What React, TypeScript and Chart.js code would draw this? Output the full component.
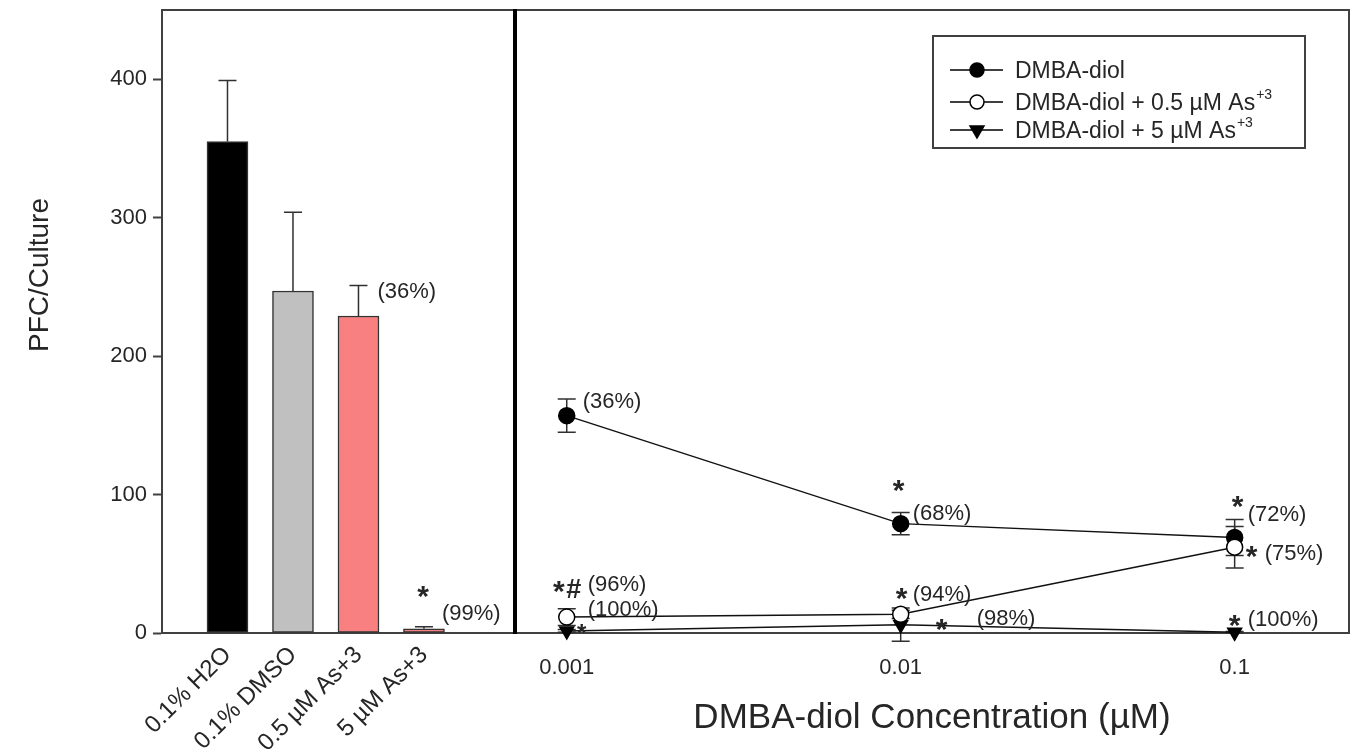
import React, { useEffect, useRef } from 'react';
import { Chart, registerables } from 'chart.js';

Chart.register(...registerables);

const FONT = '"Liberation Sans", Arial, Helvetica, sans-serif';
const AXIS = '#404040';
const TEXT = '#262626';

// ---------- Left panel (controls) ----------
const barCategories = ['0.1% H2O', '0.1% DMSO', '0.5 µM As+3', '5 µM As+3'];
const barValues = [355, 247, 229, 3];
const barErrors = [44, 57, 22, 1.5];
const barColors = ['#000000', '#c0c0c0', '#f88080', '#f88080'];

// ---------- Right panel (DMBA-diol) ----------
const concentrations = [0.001, 0.01, 0.1];
const concTickLabels = ['0.001', '0.01', '0.1'];
const diolValues = [157, 79, 69];
const diolErrors = [12, 8, 13];
const diolAs05Values = [11.5, 13.5, 62];
const diolAs05Errors = [6, 3, 15];
const diolAs5Values = [1.5, 6, 0.5];
const diolAs5Errors = [1, 12, 0.5];

const seriesLabels = ['DMBA-diol', 'DMBA-diol + 0.5 µM As', 'DMBA-diol + 5 µM As'];
const seriesSups = ['', '+3', '+3'];

const yTicks = [0, 100, 200, 300, 400];
const yMin = 0;
const yMax = 450;

const yTitle = 'PFC/Culture';
const xTitle = 'DMBA-diol Concentration (µM)';

// annotations: text attached to a data point with a pixel offset
type Note = { t: string; s: number; i: number; dx: number; dy: number; k: 'pct' | 'star' | 'hash'; size?: number };

const leftNotes: Note[] = [
  { t: '(36%)', s: 0, i: 2, dx: 19, dy: -26, k: 'pct' },
  { t: '*', s: 0, i: 3, dx: -1, dy: -40, k: 'star' },
  { t: '(99%)', s: 0, i: 3, dx: 18, dy: -17, k: 'pct' },
];

const rightNotes: Note[] = [
  { t: '(36%)', s: 0, i: 0, dx: 16, dy: -16, k: 'pct' },
  { t: '*', s: 0, i: 1, dx: -2, dy: -41, k: 'star' },
  { t: '(68%)', s: 0, i: 1, dx: 12, dy: -12, k: 'pct' },
  { t: '*', s: 0, i: 2, dx: 3, dy: -39, k: 'star' },
  { t: '(72%)', s: 0, i: 2, dx: 13, dy: -24, k: 'pct' },
  { t: '*', s: 1, i: 2, dx: 17, dy: 1, k: 'star' },
  { t: '(75%)', s: 1, i: 2, dx: 30, dy: 5, k: 'pct' },
  { t: '*', s: 1, i: 0, dx: -8, dy: -33, k: 'star' },
  { t: '#', s: 1, i: 0, dx: 7, dy: -29, k: 'hash' },
  { t: '(96%)', s: 1, i: 0, dx: 21, dy: -34, k: 'pct' },
  { t: '(100%)', s: 1, i: 0, dx: 21, dy: -9, k: 'pct' },
  { t: '*', s: 2, i: 0, dx: 15, dy: -4, k: 'star', size: 24 },
  { t: '*', s: 1, i: 1, dx: 1, dy: -24, k: 'star' },
  { t: '(94%)', s: 1, i: 1, dx: 12, dy: -21, k: 'pct' },
  { t: '*', s: 2, i: 1, dx: 41, dy: -3, k: 'star' },
  { t: '(98%)', s: 2, i: 1, dx: 76, dy: -8, k: 'pct' },
  { t: '*', s: 2, i: 2, dx: 0, dy: -15, k: 'star' },
  { t: '(100%)', s: 2, i: 2, dx: 13, dy: -14, k: 'pct' },
];

function drawNotes(chart: any, notes: Note[], xVals: number[], series: number[][]) {
  const { ctx, scales } = chart;
  ctx.save();
  ctx.fillStyle = TEXT;
  ctx.textBaseline = 'alphabetic';
  for (const n of notes) {
    const px = scales.x.getPixelForValue(xVals[n.i]) + n.dx;
    const py = scales.y.getPixelForValue(series[n.s][n.i]) + n.dy;
    if (n.k === 'pct') {
      const size = n.size ?? 22;
      ctx.font = `${size}px ${FONT}`;
      ctx.textAlign = 'left';
      ctx.fillText(n.t, px, py + 0.36 * size);
    } else if (n.k === 'star') {
      const size = n.size ?? 30;
      ctx.font = `bold ${size}px ${FONT}`;
      ctx.textAlign = 'center';
      ctx.fillText(n.t, px, py + 0.58 * size);
    } else {
      const size = n.size ?? 27;
      ctx.font = `bold ${size}px ${FONT}`;
      ctx.textAlign = 'center';
      ctx.fillText(n.t, px, py + 0.36 * size);
    }
  }
  ctx.restore();
}

function drawErrorBars(chart: any, xs: number[], ys: number[], errs: number[], upperOnly: boolean, cap: number) {
  const { ctx, scales } = chart;
  ctx.save();
  ctx.strokeStyle = '#303030';
  ctx.lineWidth = 1.5;
  for (let i = 0; i < xs.length; i++) {
    const px = scales.x.getPixelForValue(xs[i]);
    const py = scales.y.getPixelForValue(ys[i]);
    const top = scales.y.getPixelForValue(ys[i] + errs[i]);
    const bot = upperOnly ? py : scales.y.getPixelForValue(ys[i] - errs[i]);
    ctx.beginPath();
    ctx.moveTo(px, top);
    ctx.lineTo(px, bot);
    ctx.moveTo(px - cap, top);
    ctx.lineTo(px + cap, top);
    if (!upperOnly) {
      ctx.moveTo(px - cap, bot);
      ctx.lineTo(px + cap, bot);
    }
    ctx.stroke();
  }
  ctx.restore();
}

const barPositions = barCategories.map((_, i) => i + 1);

const leftPlugin = {
  id: 'leftDecor',
  afterDatasetsDraw(chart: any) {
    drawErrorBars(chart, barPositions, barValues, barErrors, true, 9);
  },
  afterDraw(chart: any) {
    const { ctx, chartArea } = chart;
    ctx.save();
    ctx.strokeStyle = AXIS;
    ctx.lineWidth = 2;
    ctx.beginPath();
    ctx.moveTo(chartArea.left - 1, chartArea.top);
    ctx.lineTo(chartArea.right, chartArea.top);
    ctx.stroke();
    // y title
    ctx.fillStyle = TEXT;
    ctx.font = `28px ${FONT}`;
    ctx.textAlign = 'center';
    ctx.textBaseline = 'middle';
    ctx.translate(40, 275);
    ctx.rotate(-Math.PI / 2);
    ctx.fillText(yTitle, 0, 0);
    ctx.restore();
    drawNotes(chart, leftNotes, barPositions, [barValues]);
  },
};

const rightSeries = [diolValues, diolAs05Values, diolAs5Values];
const rightErrors = [diolErrors, diolAs05Errors, diolAs5Errors];

function drawMarker(ctx: CanvasRenderingContext2D, kind: number, x: number, y: number, r: number) {
  ctx.save();
  ctx.lineWidth = 1.5;
  ctx.strokeStyle = '#000';
  ctx.beginPath();
  if (kind === 2) {
    ctx.moveTo(x - r * 0.87, y - r * 0.5);
    ctx.lineTo(x + r * 0.87, y - r * 0.5);
    ctx.lineTo(x, y + r);
    ctx.closePath();
    ctx.fillStyle = '#000';
  } else {
    ctx.arc(x, y, r, 0, Math.PI * 2);
    ctx.fillStyle = kind === 1 ? '#fff' : '#000';
  }
  ctx.fill();
  ctx.stroke();
  ctx.restore();
}

const rightPlugin = {
  id: 'rightDecor',
  beforeDatasetsDraw(chart: any) {
    for (let s = 0; s < rightSeries.length; s++) {
      drawErrorBars(chart, concentrations, rightSeries[s], rightErrors[s], false, 9);
    }
  },
  afterDraw(chart: any) {
    const { ctx, chartArea } = chart;
    ctx.save();
    // frame
    ctx.strokeStyle = AXIS;
    ctx.lineWidth = 2;
    ctx.beginPath();
    ctx.moveTo(chartArea.left, chartArea.top);
    ctx.lineTo(chartArea.right, chartArea.top);
    ctx.lineTo(chartArea.right, chartArea.bottom);
    ctx.stroke();
    // divider
    ctx.strokeStyle = '#000';
    ctx.lineWidth = 4;
    ctx.beginPath();
    ctx.moveTo(chartArea.left, chartArea.top - 1);
    ctx.lineTo(chartArea.left, chartArea.bottom + 1);
    ctx.stroke();

    // legend
    const bw = 372;
    const bh = 112;
    const bx = chartArea.right - 44 - bw;
    const by = chartArea.top + 26;
    ctx.strokeStyle = AXIS;
    ctx.lineWidth = 2;
    ctx.strokeRect(bx, by, bw, bh);
    const rowY = [34, 66, 94];
    for (let i = 0; i < seriesLabels.length; i++) {
      const cy = by + rowY[i];
      ctx.strokeStyle = '#000';
      ctx.lineWidth = 1.5;
      ctx.beginPath();
      ctx.moveTo(bx + 17, cy);
      ctx.lineTo(bx + 70, cy);
      ctx.stroke();
      drawMarker(ctx, i, bx + 44, cy, i === 2 ? 8 : 7);
      ctx.fillStyle = TEXT;
      ctx.font = `23px ${FONT}`;
      ctx.textAlign = 'left';
      ctx.textBaseline = 'alphabetic';
      const tx = bx + 82;
      ctx.fillText(seriesLabels[i], tx, cy + 8);
      if (seriesSups[i]) {
        const w = ctx.measureText(seriesLabels[i]).width;
        ctx.font = `14px ${FONT}`;
        ctx.fillText(seriesSups[i], tx + w + 1, cy - 3);
      }
    }

    // x title
    ctx.fillStyle = TEXT;
    ctx.font = `35px ${FONT}`;
    ctx.textAlign = 'center';
    ctx.textBaseline = 'middle';
    ctx.fillText(xTitle, (chartArea.left + chartArea.right) / 2, 718);
    ctx.restore();

    drawNotes(chart, rightNotes, concentrations, rightSeries);
  },
};

export default function App() {
  const leftRef = useRef<HTMLCanvasElement>(null);
  const rightRef = useRef<HTMLCanvasElement>(null);

  useEffect(() => {
    const left = new Chart(leftRef.current as HTMLCanvasElement, {
      type: 'bar',
      data: {
        datasets: [
          {
            data: barValues.map((v, i) => ({ x: barPositions[i], y: v })) as any,
            backgroundColor: barColors,
            borderColor: '#333333',
            borderWidth: 1.5,
            borderSkipped: false,
            barThickness: 41,
          },
        ],
      },
      options: {
        responsive: false,
        animation: false,
        devicePixelRatio: 1,
        layout: { autoPadding: false, padding: { left: 0, right: 5, top: 10, bottom: 0 } },
        plugins: { legend: { display: false }, tooltip: { enabled: false } },
        scales: {
          x: {
            type: 'linear',
            offset: false,
            min: 0,
            max: 5.39,
            afterBuildTicks: (s: any) => {
              s.ticks = barPositions.map((v) => ({ value: v }));
            },
            afterFit: (s: any) => {
              s.height = 121;
              s.paddingLeft = 0;
              s.paddingRight = 0;
            },
            grid: { display: false, drawTicks: false, offset: false },
            border: { display: true, color: AXIS, width: 2 },
            ticks: {
              autoSkip: false,
              minRotation: 45,
              maxRotation: 45,
              padding: 8,
              color: TEXT,
              font: { family: FONT, size: 24 },
              callback: (v: any) => barCategories[Number(v) - 1] ?? '',
            },
          },
          y: {
            min: yMin,
            max: yMax,
            afterBuildTicks: (s: any) => {
              s.ticks = yTicks.map((v) => ({ value: v }));
            },
            afterFit: (s: any) => {
              s.width = 162;
              s.paddingTop = 0;
              s.paddingBottom = 0;
            },
            grid: {
              display: true,
              drawOnChartArea: false,
              drawTicks: true,
              tickLength: 9,
              tickColor: AXIS,
              tickWidth: 2,
              color: AXIS,
            },
            border: { display: true, color: AXIS, width: 2 },
            ticks: { color: TEXT, font: { family: FONT, size: 22 }, padding: 6 },
          },
        },
      } as any,
      plugins: [leftPlugin],
    });

    const markerStyles = [
      { pointStyle: 'circle', pointRadius: 8, pointBackgroundColor: '#000', order: 1 },
      { pointStyle: 'circle', pointRadius: 8, pointBackgroundColor: '#fff', order: 0 },
      { pointStyle: 'triangle', pointRadius: 8, pointBackgroundColor: '#000', order: 2, pointRotation: 180 },
    ];

    const right = new Chart(rightRef.current as HTMLCanvasElement, {
      type: 'line',
      data: {
        datasets: rightSeries.map((vals, s) => ({
          label: seriesLabels[s],
          data: concentrations.map((c, i) => ({ x: c, y: vals[i] })),
          borderColor: '#111',
          borderWidth: 1.5,
          pointBorderColor: '#000',
          pointBorderWidth: 1.5,
          tension: 0,
          fill: false,
          clip: false,
          ...markerStyles[s],
        })) as any,
      },
      options: {
        responsive: false,
        animation: false,
        devicePixelRatio: 1,
        layout: { autoPadding: false, padding: { left: 10, right: 6, top: 10, bottom: 0 } },
        plugins: { legend: { display: false }, tooltip: { enabled: false } },
        scales: {
          x: {
            type: 'logarithmic',
            min: 0.0007,
            max: 0.22,
            afterBuildTicks: (s: any) => {
              s.ticks = concentrations.map((v) => ({ value: v }));
            },
            afterFit: (s: any) => {
              s.height = 121;
              s.paddingLeft = 0;
              s.paddingRight = 0;
            },
            grid: { display: false, drawTicks: false },
            border: { display: true, color: AXIS, width: 2 },
            ticks: {
              autoSkip: false,
              maxRotation: 0,
              minRotation: 0,
              padding: 22,
              color: TEXT,
              font: { family: FONT, size: 22 },
              callback: (_v: any, i: number) => concTickLabels[i],
            },
          },
          y: { display: false, min: yMin, max: yMax },
        },
      } as any,
      plugins: [rightPlugin],
    });

    return () => {
      left.destroy();
      right.destroy();
    };
  }, []);

  return (
    <div
      style={{
        position: 'fixed',
        left: 0,
        top: 0,
        width: 1355,
        height: 754,
        background: '#fff',
        overflow: 'hidden',
      }}
    >
      <canvas
        ref={leftRef}
        width={520}
        height={754}
        style={{ position: 'absolute', left: 0, top: 0, width: 520, height: 754 }}
      />
      <canvas
        ref={rightRef}
        width={850}
        height={754}
        style={{ position: 'absolute', left: 505, top: 0, width: 850, height: 754 }}
      />
    </div>
  );
}
